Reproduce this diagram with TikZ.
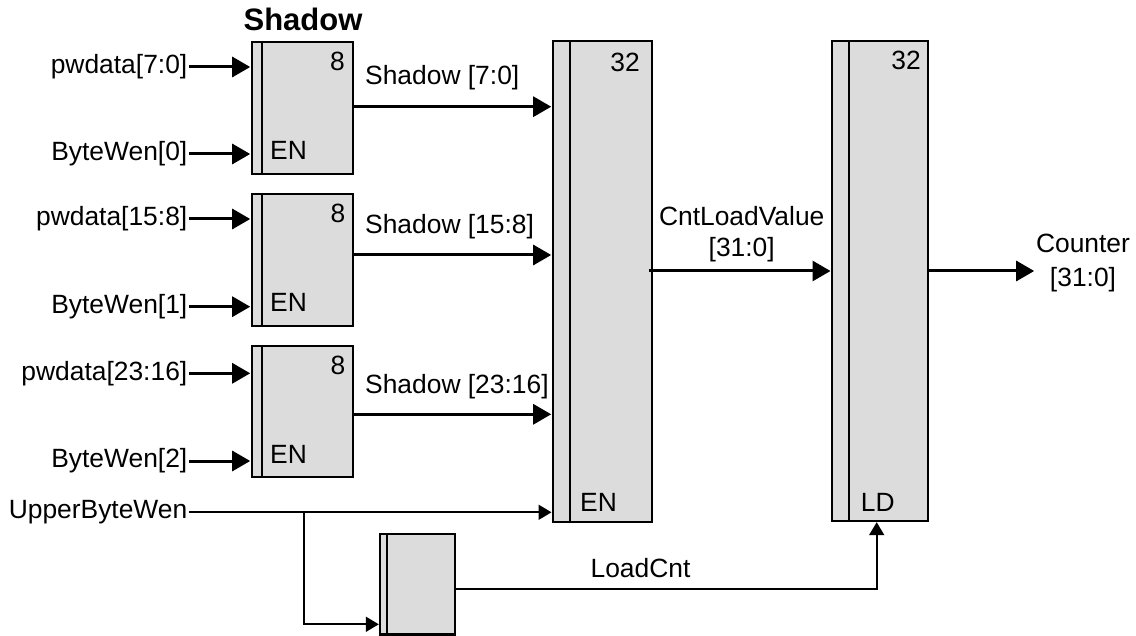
\documentclass[tikz,border=0pt]{standalone}
\usepackage{fontspec}
\setmainfont{Liberation Sans}
\usetikzlibrary{arrows.meta,calc}
\definecolor{boxgray}{RGB}{220,220,220}
\newcommand\regblk[6]{%
  \node[regbox, minimum width={#4-#2}, minimum height={#5-#3}] (#1) at (#2,#3) {};
  \draw[regline] ($(#1.north west)+(#6,0)$) -- ($(#1.south west)+(#6,0)$);}
\begin{document}
\begin{tikzpicture}[x=1pt,y=-1pt,
  regbox/.style={draw, line width=2.3pt, fill=boxgray, inner sep=0pt, outer sep=0pt, anchor=north west},
  regline/.style={line width=2.3pt},
  txt/.style={inner sep=0pt, font=\fontsize{26.4}{31}\selectfont},
  btxt/.style={inner sep=0pt, font=\fontsize{31}{36}\selectfont\bfseries},
  thk/.style={line width=3pt, -{Triangle[length=18pt,width=20pt]}, shorten >=1.5pt, shorten <=1.5pt},
  thn/.style={line width=1.8pt, -{Triangle[length=13pt,width=15pt]}, shorten >=1.2pt}]
\useasboundingbox (0,0) rectangle (1136,636);

% title
\node[btxt, anchor=base] (title) at (303,30.7) {Shadow};

% shadow registers
\regblk{s1}{251.7}{41.7}{353.3}{174}{10}
\regblk{s2}{251.7}{194}{353.3}{325.7}{10}
\regblk{s3}{251.7}{345.7}{353.3}{477.3}{10}
% big registers
\regblk{E}{552.7}{41}{652.3}{521.7}{17.3}
\regblk{LD}{832}{41}{927.7}{521}{16.8}
% small register
\regblk{L}{380}{534.3}{455.3}{634.5}{7.3}

% labels inside registers
\node[txt, anchor=base east] (n1) at (345,71) {8};
\node[txt, anchor=base west] (e1) at (270,160) {EN};
\node[txt, anchor=base east] (n2) at (345.5,222.7) {8};
\node[txt, anchor=base west] (e2) at (270,311.7) {EN};
\node[txt, anchor=base east] (n3) at (345.5,374.5) {8};
\node[txt, anchor=base west] (e3) at (270,463.3) {EN};
\node[txt, anchor=base east] (nE) at (640,71.7) {32};
\node[txt, anchor=base west] (eE) at (580,511.7) {EN};
\node[txt, anchor=base east] (nL) at (921,70) {32};
\node[txt, anchor=base west] (eL) at (860.7,511.7) {LD};

% inputs
\node[txt, anchor=east] (p0) at (187.5,67) {pwdata[7:0]};
\node[txt, anchor=east] (b0) at (187.5,154) {ByteWen[0]};
\node[txt, anchor=east] (p1) at (187.5,219) {pwdata[15:8]};
\node[txt, anchor=east] (b1) at (187.5,306.7) {ByteWen[1]};
\node[txt, anchor=east] (p2) at (187.5,373.3) {pwdata[23:16]};
\node[txt, anchor=east] (b2) at (187.5,461) {ByteWen[2]};
\node[txt, anchor=east] (ub) at (187.5,512.3) {UpperByteWen};

\foreach \i/\r in {p0/s1,b0/s1,p1/s2,b1/s2,p2/s3,b2/s3}
  \draw[thk] (\i.east) -- (\i.east -| \r.west);

% shadow outputs
\draw[thk, shorten <=0pt] (s1.east |- 0,106.7) -- (E.west |- 0,106.7);
\draw[thk, shorten <=0pt] (s2.east |- 0,255) -- (E.west |- 0,255);
\draw[thk, shorten <=0pt] (s3.east |- 0,414.3) -- (E.west |- 0,414.3);
\node[txt, anchor=base west] (l1) at (365,85) {Shadow [7:0]};
\node[txt, anchor=base west] (l2) at (365,233.3) {Shadow [15:8]};
\node[txt, anchor=base west] (l3) at (365,394) {Shadow [23:16]};

% CntLoadValue
\draw[thk, shorten <=-3.5pt] (E.east |- 0,271) -- (LD.west |- 0,271);
\node[txt, anchor=base] (c1) at (741.7,226) {CntLoadValue};
\node[txt, anchor=base] (c2) at (741.7,256.7) {[31:0]};

% Counter
\draw[thk, shorten <=0pt] (LD.east |- 0,271) -- ++(108,0) coordinate (cend);
\node[txt, anchor=base] (k1) at (1083,252.7) {Counter};
\node[txt, anchor=base] (k2) at (1083,286.7) {[31:0]};

% UpperByteWen
\draw[thn, shorten <=1.5pt] (ub.east) -- (ub.east -| E.west);
\coordinate (br) at (304,512.3);
\draw[thn] (br) |- (L.west |- 0,624.3);

% LoadCnt
\draw[thn] (L.east |- 0,589) -| (876.7,0 |- LD.south);
\node[txt, anchor=base] (lc) at (640.5,577.3) {LoadCnt};
\end{tikzpicture}
\end{document}
